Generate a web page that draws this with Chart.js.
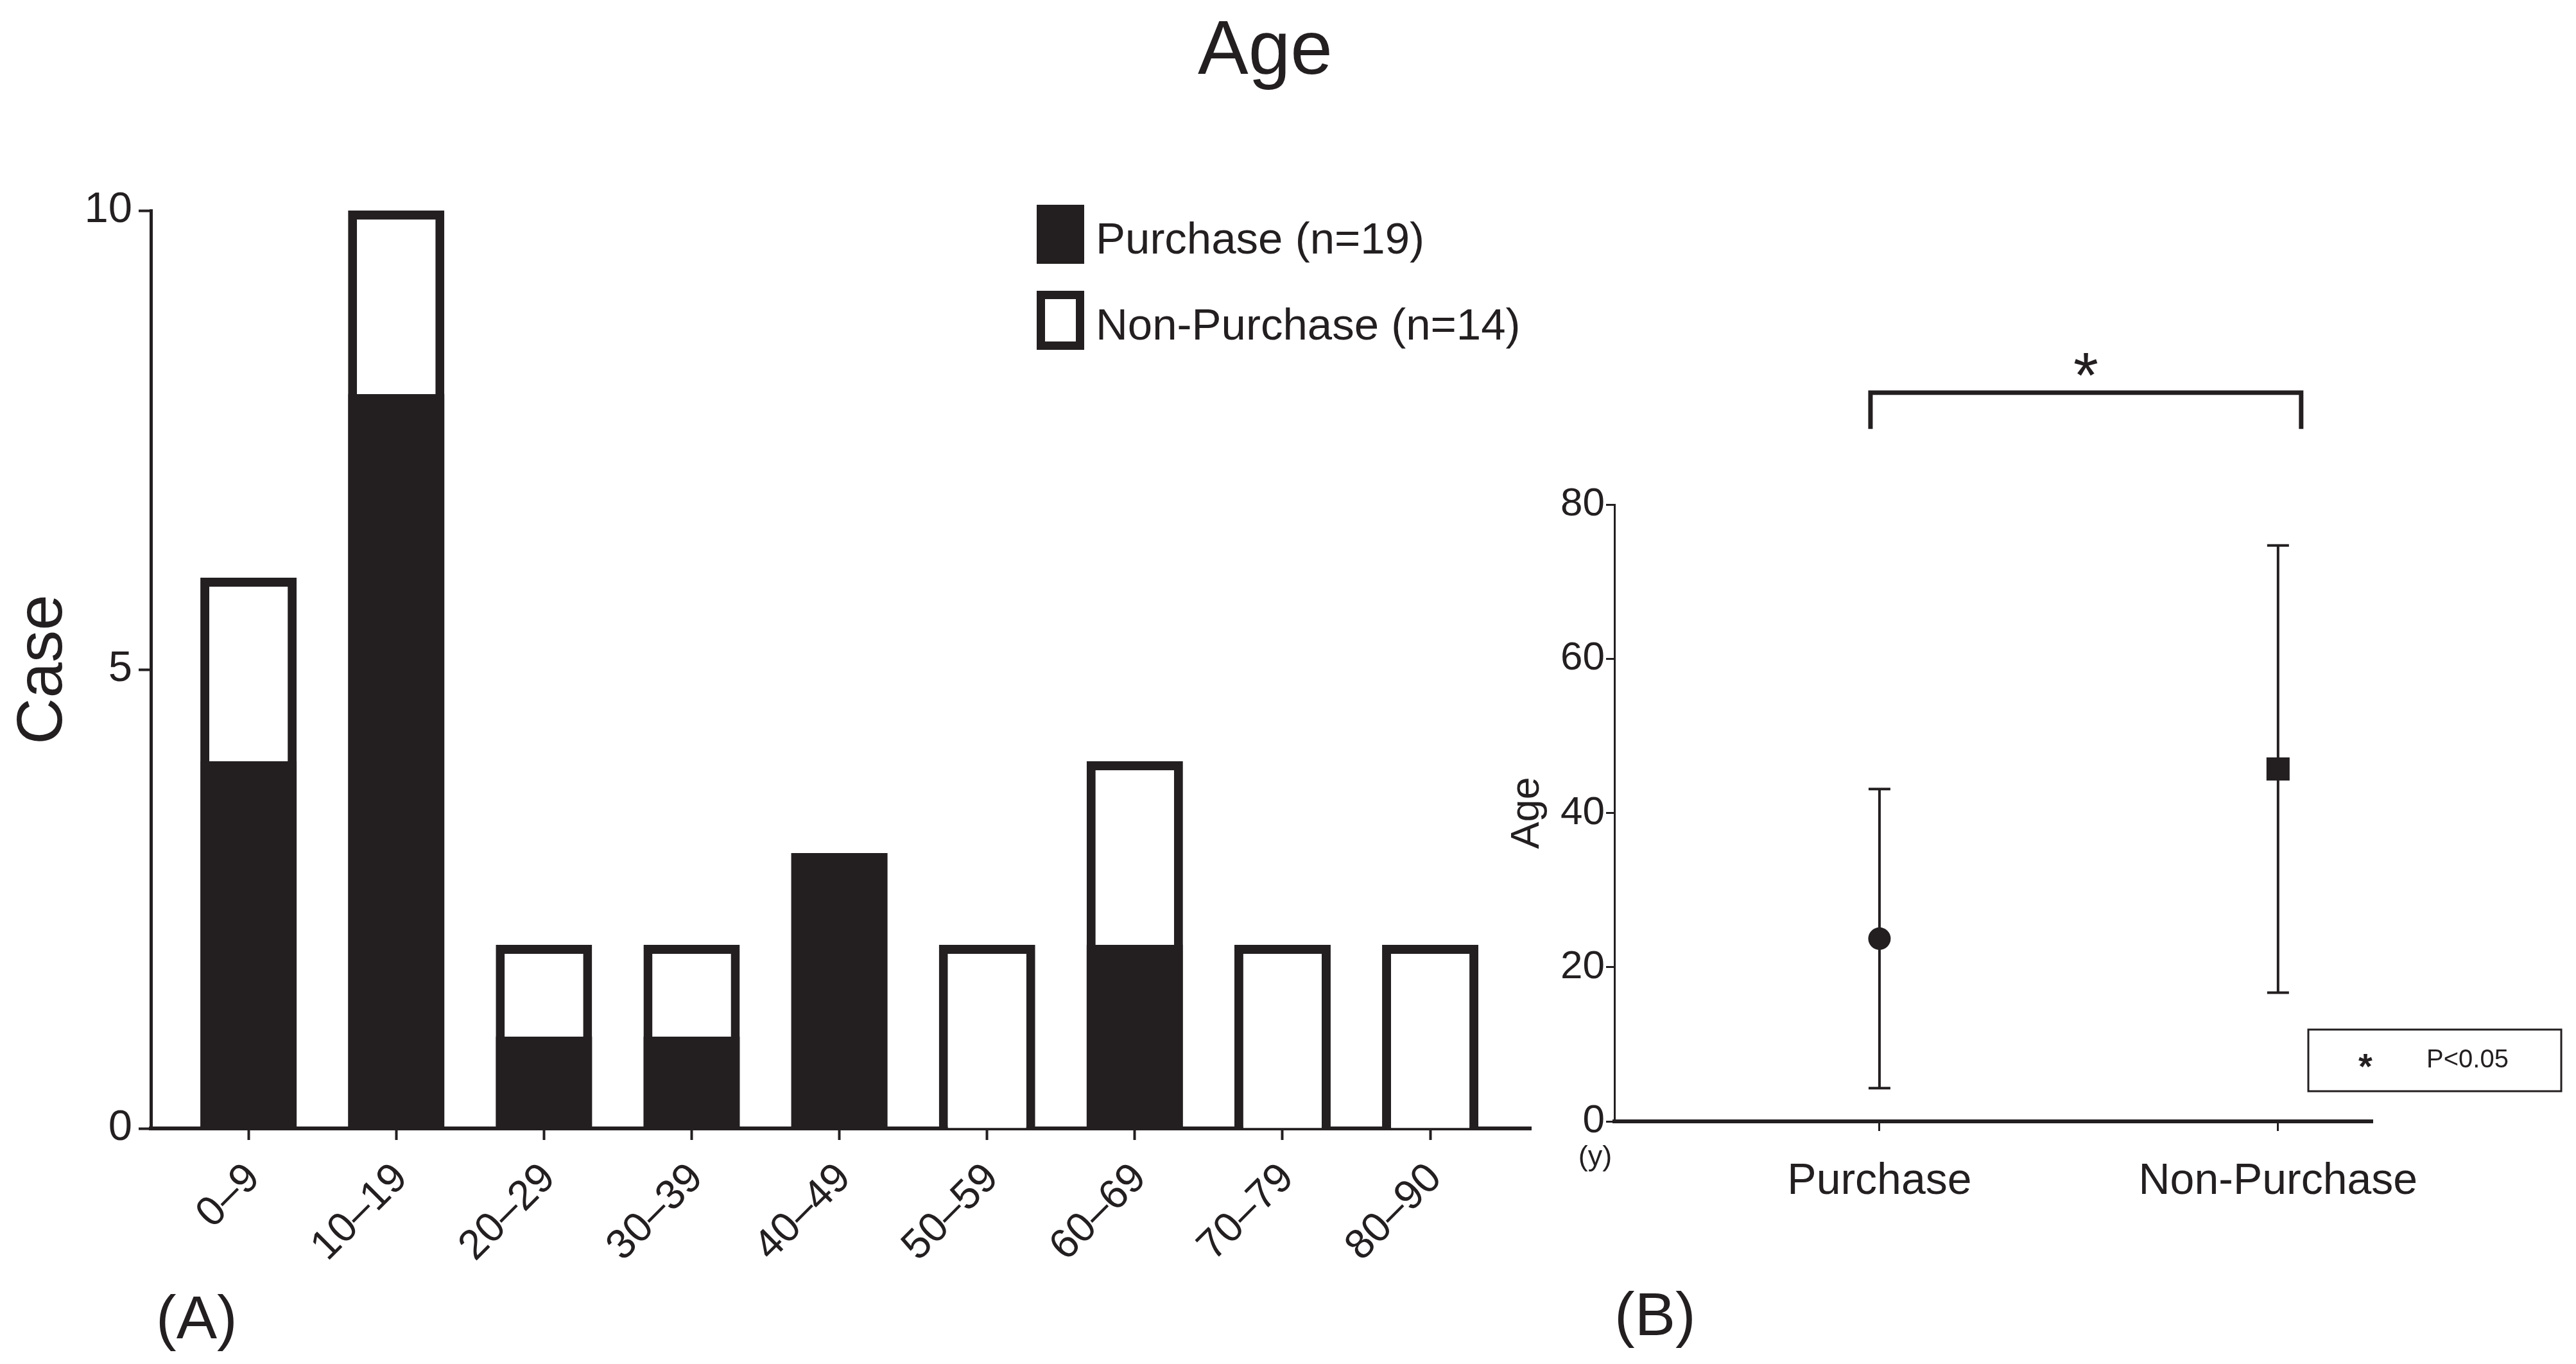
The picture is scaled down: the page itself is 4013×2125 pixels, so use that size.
<!DOCTYPE html>
<html>
<head>
<meta charset="utf-8">
<title>Age</title>
<script src="https://cdn.jsdelivr.net/npm/chart.js@4.4.1/dist/chart.umd.min.js"></script>
<style>
  html, body { margin: 0; padding: 0; background: #fff; }
  body { position: relative; width: 4013px; height: 2125px; overflow: hidden;
         font-family: "Liberation Sans", Arial, sans-serif; color: #231f20; }
  canvas { position: absolute; top: 0; }
  #barChart { left: 0; }
  #ageChart { left: 2300px; }
  .lbl { position: absolute; line-height: 1; white-space: nowrap; }
  #mainTitle { left: 1971px; top: 15px; font-size: 118px; transform: translateX(-50%); }
  #panelA { left: 243px; top: 2005px; font-size: 95px; }
  #panelB { left: 2515px; top: 2000px; font-size: 95px; }
</style>
</head>
<body>
<div id="mainTitle" class="lbl">Age</div>
<canvas id="barChart" width="2450" height="2125"></canvas>
<canvas id="ageChart" width="1713" height="2125"></canvas>
<div id="panelA" class="lbl">(A)</div>
<div id="panelB" class="lbl">(B)</div>
<script>
// --- datos (A): casos por grupo de edad ---
const ageGroups = ['0–9', '10–19', '20–29', '30–39', '40–49', '50–59', '60–69', '70–79', '80–90'];
const purchaseCases = [4, 8, 1, 1, 3, 0, 2, 0, 0];
const nonPurchaseCases = [2, 2, 1, 1, 0, 2, 2, 2, 2];
const caseTicks = [0, 5, 10];

// --- datos (B): edad media +/- DE ---
const groupNames = ['Purchase', 'Non-Purchase'];
const groupN = [19, 14];
const ageMean = [23.7, 45.7];
const ageSD = [19.4, 29.0];
const ageTicks = [0, 20, 40, 60, 80];

const INK = '#231f20';
const FONT = '"Liberation Sans", Arial, sans-serif';
Chart.defaults.font.family = FONT;
Chart.defaults.color = INK;

// legend drawn inside the plot, like the original
const boxLegend = {
    id: 'boxLegend',
    afterDraw(chart) {
        const { ctx, chartArea } = chart;
        const x = chartArea.left + 1380;
        chart.data.datasets.forEach((ds, i) => {
            const top = chartArea.top - 9 + i * 134;
            ctx.save();
            ctx.fillStyle = ds.backgroundColor;
            ctx.fillRect(x, top, 74, 92);
            if (ds.borderWidth) {
                ctx.lineWidth = 13;
                ctx.strokeStyle = ds.borderColor;
                ctx.strokeRect(x + 6.5, top + 6.5, 74 - 13, 92 - 13);
            }
            ctx.fillStyle = INK;
            ctx.font = '69px ' + FONT;
            ctx.textAlign = 'left';
            ctx.textBaseline = 'alphabetic';
            ctx.fillText(ds.label, x + 92, top + 76);
            ctx.restore();
        });
    }
};

new Chart(document.getElementById('barChart'), {
    type: 'bar',
    data: {
        datasets: [
            {
                label: `${groupNames[0]} (n=${groupN[0]})`,
                data: purchaseCases.map((v, i) => ({ x: i, y: v })),
                backgroundColor: INK,
                borderWidth: 0,
                categoryPercentage: 0.652,
                barPercentage: 1
            },
            {
                label: `${groupNames[1]} (n=${groupN[1]})`,
                data: nonPurchaseCases.map((v, i) => ({ x: i, y: v })),
                backgroundColor: '#ffffff',
                borderColor: INK,
                borderWidth: 14,
                categoryPercentage: 0.652,
                barPercentage: 1
            }
        ]
    },
    options: {
        responsive: false,
        animation: false,
        devicePixelRatio: 1,
        layout: { padding: { top: 328, right: 65, left: 0, bottom: 0 } },
        plugins: { legend: { display: false }, tooltip: { enabled: false } },
        scales: {
            x: {
                type: 'linear',
                stacked: true,
                offset: false,
                min: -0.661,
                max: 8.682,
                afterFit: s => { s.height = 367; },
                border: { color: INK, width: 6 },
                grid: { offset: false, drawOnChartArea: false, drawTicks: true, tickLength: 18, tickWidth: 4, tickColor: INK },
                ticks: {
                    stepSize: 1, includeBounds: false, autoSkip: false,
                    minRotation: 45, maxRotation: 45, padding: 22, labelOffset: 8,
                    color: INK, font: { size: 65 },
                    callback: v => ageGroups[v] ?? ''
                }
            },
            y: {
                stacked: true,
                min: caseTicks[0],
                max: caseTicks[caseTicks.length - 1],
                afterFit: s => { s.width = 235; },
                afterBuildTicks: s => { s.ticks = caseTicks.map(v => ({ value: v })); },
                border: { color: INK, width: 5 },
                grid: { drawOnChartArea: false, drawTicks: true, tickLength: 19, tickWidth: 4, tickColor: INK },
                ticks: { padding: 10, color: INK, font: { size: 67 } },
                title: { display: true, text: 'Case', color: INK, font: { size: 100 }, padding: { top: 8, bottom: 0 } }
            }
        }
    },
    plugins: [boxLegend]
});

// error bars, significance bracket and p-value box for (B)
const ageExtras = {
    id: 'ageExtras',
    beforeDatasetsDraw(chart) {
        const { ctx, scales: { x, y } } = chart;
        ctx.save();
        ctx.strokeStyle = INK;
        ctx.lineWidth = 4;
        ageMean.forEach((m, i) => {
            const px = x.getPixelForValue(i);
            const top = y.getPixelForValue(m + ageSD[i]);
            const bot = y.getPixelForValue(m - ageSD[i]);
            ctx.beginPath();
            ctx.moveTo(px, top); ctx.lineTo(px, bot);
            ctx.moveTo(px - 17, top); ctx.lineTo(px + 17, top);
            ctx.moveTo(px - 17, bot); ctx.lineTo(px + 17, bot);
            ctx.stroke();
        });
        ctx.restore();
    },
    afterDraw(chart) {
        const { ctx, chartArea, scales: { x, y } } = chart;
        ctx.save();
        // bracket
        const x0 = x.getPixelForValue(0) - 14;
        const x1 = x.getPixelForValue(1) + 36;
        const yb = y.getPixelForValue(94.5);
        const yl = y.getPixelForValue(89.8);
        ctx.strokeStyle = INK;
        ctx.lineWidth = 7;
        ctx.lineJoin = 'miter';
        ctx.beginPath();
        ctx.moveTo(x0, yl); ctx.lineTo(x0, yb); ctx.lineTo(x1, yb); ctx.lineTo(x1, yl);
        ctx.stroke();
        ctx.fillStyle = INK;
        ctx.textAlign = 'center';
        ctx.textBaseline = 'alphabetic';
        ctx.font = '100px ' + FONT;
        ctx.fillText('*', (x0 + x1) / 2, yb - 50 + 57);
        // (y) unit
        ctx.font = '45px ' + FONT;
        ctx.textBaseline = 'middle';
        ctx.fillText('(y)', chartArea.left - 30, chartArea.bottom + 57);
        // p-value box
        const bx = chartArea.right - 100, by = chartArea.bottom - 143;
        ctx.lineWidth = 3;
        ctx.strokeRect(bx, by, 394, 96);
        ctx.font = 'bold 56px ' + FONT;
        ctx.textBaseline = 'alphabetic';
        ctx.fillText('*', bx + 89, by + 48 + 28);
        ctx.font = '40px ' + FONT;
        ctx.textAlign = 'left';
        ctx.textBaseline = 'middle';
        ctx.fillText('P<0.05', bx + 184, by + 48);
        ctx.restore();
    }
};

new Chart(document.getElementById('ageChart'), {
    type: 'scatter',
    data: {
        datasets: groupNames.map((name, i) => ({
            label: name,
            data: [{ x: i, y: ageMean[i] }],
            pointStyle: i === 0 ? 'circle' : 'rect',
            pointRadius: i === 0 ? 17.5 : 25.5,
            backgroundColor: INK,
            borderColor: INK,
            borderWidth: 0
        }))
    },
    options: {
        responsive: false,
        animation: false,
        devicePixelRatio: 1,
        layout: { padding: { top: 786, right: 317, left: 0, bottom: 0 } },
        plugins: { legend: { display: false }, tooltip: { enabled: false } },
        scales: {
            x: {
                type: 'linear',
                min: -0.665,
                max: 1.237,
                afterFit: s => { s.height = 378; },
                border: { color: INK, width: 6 },
                grid: { drawOnChartArea: false, drawTicks: true, tickLength: 15, tickWidth: 3, tickColor: INK },
                ticks: {
                    stepSize: 1, includeBounds: false, autoSkip: false, maxRotation: 0,
                    padding: 38, color: INK, font: { size: 68 },
                    callback: v => groupNames[v] ?? ''
                }
            },
            y: {
                min: ageTicks[0],
                max: ageTicks[ageTicks.length - 1],
                afterFit: s => { s.width = 215; },
                afterBuildTicks: s => { s.ticks = ageTicks.map(v => ({ value: v })); },
                border: { color: INK, width: 3 },
                grid: { drawOnChartArea: false, drawTicks: true, tickLength: 13, tickWidth: 3, tickColor: INK },
                ticks: { padding: 2, color: INK, font: { size: 62 } },
                title: { display: true, text: 'Age', color: INK, font: { size: 63 }, padding: { top: 42, bottom: 0 } }
            }
        }
    },
    plugins: [ageExtras]
});
</script>
</body>
</html>
